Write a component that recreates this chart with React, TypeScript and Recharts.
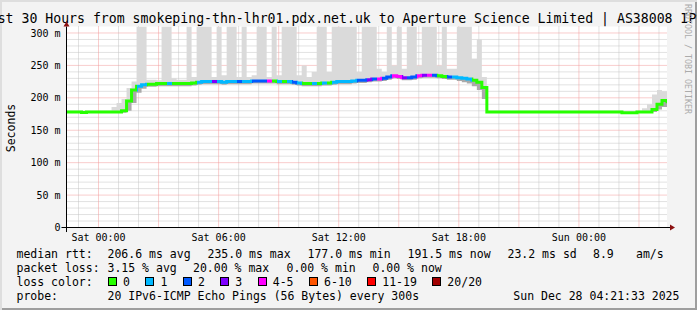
import React from "react";
import {
  ComposedChart,
  Area,
  Line,
  XAxis,
  YAxis,
  CartesianGrid,
  ReferenceLine,
  ReferenceDot,
} from "recharts";

// 15 minute bins, time in hours relative to Sat 00:00 (graph starts Fri 22:24)
const START_HOUR = -1.6;
const BIN_HOURS = 0.25;

// median rtt in ms per bin
const medianRtt = [
  178, 178, 178, 177.5, 178, 178, 178, 178, 178, 178,
  178, 180, 195, 212, 218, 220, 221, 221, 222, 222,
  222, 222, 222, 222, 222, 223, 224,
  225, 225, 225, 225, 224, 225, 225, 225, 225, 225, 226, 226, 226, 226, 226, 225, 225, 225,
  224, 223, 222, 222, 222, 222, 223, 223,
  224, 225, 225, 225, 226,
  227, 227, 228, 229, 229, 230, 232, 234, 233, 231, 231, 232, 234,
  235, 235, 235, 234, 233, 232, 232, 231, 230, 229, 227, 224, 216,
  178, 178, 178, 178, 178, 178, 178, 178, 178,
  178, 178, 178, 178, 178, 178, 178, 178, 178,
  178, 178, 178, 178, 178, 178, 178, 178, 178,
  177, 177, 177,
  178, 178, 178,
  182, 190, 196, 191.5,
];

// smoke: slowest ping per bin
const smokeHi = [
  179, 179, 179, 179, 179, 179, 179, 179, 179,
  186, 192, 198, 215, 225,
  310, 310, 228, 228, 227, 310, 310, 230, 228, 228,
  310, 232, 310, 310, 310, 232, 310, 235, 310, 310,
  232, 310, 232, 235, 310, 310, 232, 310, 235, 310,
  310, 310, 235, 250, 232, 240, 310, 310, 240, 310,
  310, 310, 310, 310, 240, 310, 310, 310, 245, 240,
  310, 250, 310, 245, 310, 310, 250, 310, 310, 310,
  250, 310, 245, 245, 310, 310, 310, 260, 290, 232,
  179, 179, 179, 179, 179, 179, 179, 179, 179, 179,
  179, 179, 179, 179, 179, 179, 179, 179, 179, 179,
  179, 179, 179, 179, 179, 179, 179, 179, 179, 179,
  179,
  184, 190, 205, 212, 210, 205,
];

// smoke: fastest ping per bin
const smokeLo = [
  177, 177, 177, 177, 177, 177, 177, 177, 177, 177, 177, 177,
  180, 192, 208, 214,
  217, 217, 218, 218, 218, 218, 218, 218, 218, 219, 220,
  221, 221, 221, 221, 220, 221, 221, 221, 221, 221, 222, 222, 222, 222, 222, 221, 221, 221,
  220, 219, 218, 218, 218, 218, 219, 219,
  220, 221, 221, 221, 222,
  223, 223, 224, 225, 225, 226, 228, 230, 229, 227, 227, 228, 230,
  231, 231, 231, 230, 229, 228, 228, 226, 224, 222, 218, 212, 198,
  177, 177, 177, 177, 177, 177, 177, 177, 177,
  177, 177, 177, 177, 177, 177, 177, 177, 177,
  177, 177, 177, 177, 177, 177, 177, 177, 177,
  176, 176, 176,
  177, 177, 177, 178, 182, 186, 186,
];

// lost pings out of 20 per bin
const lostPings = [
  0, 0, 0, 0, 0, 0, 0, 0, 0, 0, 0, 0, 0, 0,
  1, 1, 0, 0, 0, 0, 1, 0, 0, 0,
  0, 0, 1, 1, 1, 3, 1, 1, 1, 1,
  2, 1, 1, 2, 2, 2, 4, 0, 1, 0,
  1, 2, 1, 0, 0, 1, 0, 1, 0, 1,
  1, 1, 1, 1, 2, 2, 3, 2, 4, 2,
  2, 4, 4, 3, 2, 2, 4, 3, 4, 2,
  0, 0, 2, 1, 1, 1, 1, 0, 0, 0,
  0, 0, 0, 0, 0, 0, 0, 0, 0, 0,
  0, 0, 0, 0, 0, 0, 0, 0, 0, 0,
  0, 0, 0, 0, 0, 0, 0, 0, 0, 0,
  0, 0, 0, 0, 0, 0, 0,
];

const lossLabels = ["0", "1", "2", "3", "4-5", "6-10", "11-19", "20/20"];
const lossColors = ["#26ff00", "#00b8ff", "#0059ff", "#7e00ff", "#ff00ff", "#ff5500", "#ff0000", "#a10000"];
const lossUpper = [0, 1, 2, 3, 5, 10, 19, 20];

const xTicks = [0, 6, 12, 18, 24];
const xTickLabels = ["Sat 00:00", "Sat 06:00", "Sat 12:00", "Sat 18:00", "Sun 00:00"];
const yTicks = [0, 50, 100, 150, 200, 250, 300];

const X_MIN = -1.6;
const X_MAX = 28.4;
const Y_MAX = 310;

const MONO = '"DejaVu Sans Mono", monospace';

const lossColor = (n: number) => lossColors[lossUpper.findIndex((u) => n <= u)];

const data = medianRtt.map((m, i) => ({
  t: START_HOUR + i * BIN_HOURS,
  med: m,
  lo: smokeLo[i],
  hi: smokeHi[i],
  loss: lostPings[i],
}));

const minorHours = Array.from({ length: 30 }, (_, i) => i - 1).filter((h) => h % 3 !== 0);
const majorHours = Array.from({ length: 10 }, (_, i) => i * 3);
const minorMs = Array.from({ length: 30 }, (_, i) => (i + 1) * 10).filter((v) => v % 50 !== 0);
const majorMs = [50, 100, 150, 200, 250, 300];

const row: React.CSSProperties = {
  position: "absolute",
  fontFamily: MONO,
  fontSize: 11.5,
  lineHeight: "14px",
  whiteSpace: "pre",
  color: "#000",
};

const Txt = ({ x, y, children }: { x: number; y: number; children: React.ReactNode }) => (
  <div style={{ ...row, left: x, top: y }}>{children}</div>
);

export default function App() {
  const t0 = data[0].t;
  const span = data[data.length - 1].t - t0;
  const stops = data.slice(0, -1).flatMap((d, i) => {
    const c = lossColor(d.loss);
    return [
      <stop key={`a${i}`} offset={(d.t - t0) / span} stopColor={c} />,
      <stop key={`b${i}`} offset={(data[i + 1].t - t0) / span} stopColor={c} />,
    ];
  });

  return (
    <div
      style={{
        position: "fixed",
        left: 0,
        top: 0,
        width: 697,
        height: 310,
        overflow: "hidden",
        background: "#f3f3f3",
        boxShadow: "inset 2px 2px 0 #dedede, inset -2px -2px 0 #9e9e9e",
      }}
    >
      <div
        style={{
          position: "absolute",
          left: 347,
          top: 11.8,
          transform: "translateX(-50%)",
          fontFamily: MONO,
          fontSize: 13.2,
          lineHeight: "13.2px",
          whiteSpace: "pre",
          color: "#000",
        }}
      >
        Last 30 Hours from smokeping-thn-lhr01.pdx.net.uk to Aperture Science Limited | AS38008 IPv6
      </div>
      <div
        style={{
          position: "absolute",
          left: 683,
          top: 4,
          writingMode: "vertical-rl",
          fontFamily: MONO,
          fontSize: 8.3,
          lineHeight: "10px",
          color: "#ababab",
          whiteSpace: "pre",
        }}
      >
        RRDTOOL / TOBI OETIKER
      </div>
      <div
        style={{
          position: "absolute",
          left: 10.5,
          top: 127.5,
          transform: "translate(-50%, -50%) rotate(-90deg)",
          fontFamily: MONO,
          fontSize: 11.5,
          whiteSpace: "pre",
          color: "#000",
        }}
      >
        Seconds
      </div>

      <div style={{ position: "absolute", left: 0, top: 0 }}>
        <ComposedChart
          width={697}
          height={310}
          data={data}
          margin={{ top: 26.5, right: 30, left: 6.5, bottom: 62.5 }}
        >
          <defs>
            <linearGradient id="lossGrad" x1="0" y1="0" x2="1" y2="0">
              {stops}
            </linearGradient>
          </defs>
          <CartesianGrid fill="#ffffff" stroke="none" horizontal={false} vertical={false} />
          <XAxis
            dataKey="t"
            type="number"
            domain={[X_MIN, X_MAX]}
            allowDataOverflow
            ticks={xTicks}
            tickFormatter={(v: number) => xTickLabels[xTicks.indexOf(v)]}
            axisLine={false}
            tickLine={false}
            tickSize={2}
            tickMargin={4}
            height={20}
            tick={{ fontFamily: MONO, fontSize: 10, fill: "#000" }}
          />
          <YAxis
            type="number"
            domain={[0, Y_MAX]}
            allowDataOverflow
            ticks={yTicks}
            tickFormatter={(v: number) => (v === 0 ? "0" : `${v} m`)}
            axisLine={false}
            tickLine={false}
            tickSize={2}
            tickMargin={4}
            width={60}
            tick={{ fontFamily: MONO, fontSize: 10, fill: "#000" }}
          />
          {minorHours.map((h) => (
            <ReferenceLine key={`vh${h}`} x={h} stroke="#c4c4c4" strokeDasharray="1 1" zIndex={-50} />
          ))}
          {minorMs.map((v) => (
            <ReferenceLine key={`hm${v}`} y={v} stroke="#c4c4c4" strokeDasharray="1 1" zIndex={-50} />
          ))}
          {majorHours.map((h) => (
            <ReferenceLine key={`vM${h}`} x={h} stroke="#f29a9a" strokeDasharray="1 1" zIndex={-40} />
          ))}
          {majorMs.map((v) => (
            <ReferenceLine key={`hM${v}`} y={v} stroke="#f29a9a" strokeDasharray="1 1" zIndex={-40} />
          ))}
          <Area
            dataKey={(d: any) => [d.med, d.hi]}
            type="stepAfter"
            stroke="none"
            fill="#dadada"
            fillOpacity={1}
            isAnimationActive={false}
            dot={false}
            activeDot={false}
          />
          <Area
            dataKey={(d: any) => [d.lo, d.med]}
            type="stepAfter"
            stroke="none"
            fill="#aaaaaa"
            fillOpacity={1}
            isAnimationActive={false}
            dot={false}
            activeDot={false}
          />
          <Line
            dataKey="med"
            type="stepAfter"
            stroke="url(#lossGrad)"
            strokeWidth={3}
            dot={false}
            activeDot={false}
            isAnimationActive={false}
          />
          <ReferenceLine
            segment={[{ x: -1.85, y: 0 }, { x: 28.55, y: 0 }]}
            stroke="#000"
            ifOverflow="visible"
            zIndex={600}
          />
          <ReferenceLine
            segment={[{ x: X_MIN, y: -7 }, { x: X_MIN, y: Y_MAX }]}
            stroke="#000"
            ifOverflow="visible"
            zIndex={600}
          />
          <ReferenceDot
            x={28.55}
            y={0}
            ifOverflow="visible"
            zIndex={600}
            shape={(p: any) => (
              <polygon
                points={`${p.cx},${p.cy - 3} ${p.cx + 5},${p.cy} ${p.cx},${p.cy + 3}`}
                fill="#8b1010"
              />
            )}
          />
          <ReferenceDot
            x={X_MIN}
            y={Y_MAX}
            ifOverflow="visible"
            zIndex={600}
            shape={(p: any) => (
              <polygon
                points={`${p.cx - 3},${p.cy} ${p.cx},${p.cy - 5} ${p.cx + 3},${p.cy}`}
                fill="#8b1010"
              />
            )}
          />
        </ComposedChart>
      </div>

      <Txt x={16.5} y={246.5}>median rtt:</Txt>
      <Txt x={107.5} y={246.5}>206.6 ms avg</Txt>
      <Txt x={207.5} y={246.5}>235.0 ms max</Txt>
      <Txt x={307.5} y={246.5}>177.0 ms min</Txt>
      <Txt x={407.5} y={246.5}>191.5 ms now</Txt>
      <Txt x={507.5} y={246.5}>23.2 ms sd</Txt>
      <Txt x={593} y={246.5}>8.9</Txt>
      <Txt x={636} y={246.5}>am/s</Txt>

      <Txt x={16.5} y={260.5}>packet loss:</Txt>
      <Txt x={107.5} y={260.5}>3.15 % avg</Txt>
      <Txt x={193} y={260.5}>20.00 % max</Txt>
      <Txt x={286.5} y={260.5}>0.00 % min</Txt>
      <Txt x={372.5} y={260.5}>0.00 % now</Txt>

      <Txt x={16.5} y={274.5}>loss color:</Txt>
      <div style={{ ...row, left: 108, top: 274.5, display: "flex", alignItems: "center" }}>
        {lossLabels.map((l, i) => (
          <React.Fragment key={l}>
            <span
              style={{
                display: "inline-block",
                width: 7,
                height: 7,
                border: "1px solid #000",
                background: lossColors[i],
                marginRight: 6,
              }}
            />
            <span style={{ marginRight: 15.5 }}>{l}</span>
          </React.Fragment>
        ))}
      </div>

      <Txt x={16.5} y={288.5}>probe:</Txt>
      <Txt x={107.5} y={288.5}>20 IPv6-ICMP Echo Pings (56 Bytes) every 300s</Txt>
      <Txt x={513.3} y={288.5}>Sun Dec 28 04:21:33 2025</Txt>
    </div>
  );
}
